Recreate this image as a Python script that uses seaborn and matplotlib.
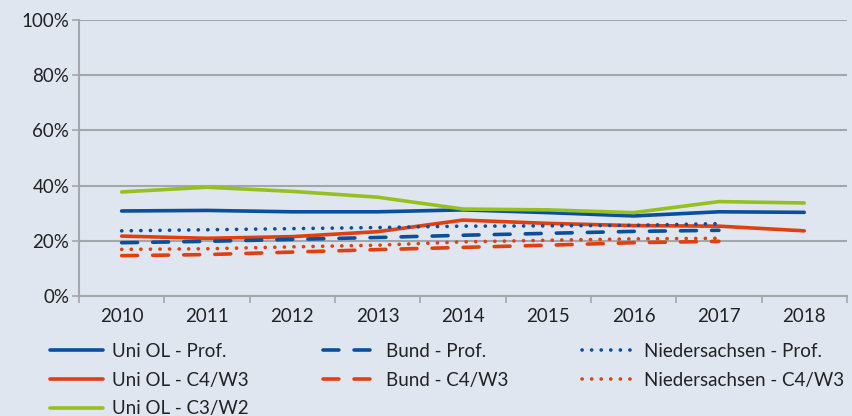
import matplotlib
matplotlib.use("Agg")
import matplotlib.pyplot as plt
import numpy as np
import seaborn as sns

# data (percent)
years = [2010, 2011, 2012, 2013, 2014, 2015, 2016, 2017, 2018]
uni_prof = [30.8, 31.0, 30.5, 30.5, 31.2, 30.2, 29.0, 30.5, 30.3]
uni_c4 = [21.7, 20.9, 21.5, 23.3, 27.5, 26.3, 25.5, 25.3, 23.6]
uni_c3 = [37.7, 39.4, 37.9, 35.8, 31.5, 31.2, 30.2, 34.2, 33.7]
bund_prof = [19.3, 19.8, 20.5, 21.2, 22.0, 22.7, 23.4, 23.8]
bund_c4 = [14.6, 15.0, 15.9, 16.8, 17.6, 18.4, 19.3, 19.8]
nds_prof = [23.6, 24.0, 24.4, 24.8, 25.3, 25.4, 25.6, 26.2]
nds_c4 = [16.9, 17.1, 17.8, 18.4, 19.6, 20.2, 20.7, 20.9]

BG = "#dfe6f0"
BLUE = "#0a4f9c"
RED = "#e0400f"
GREEN = "#94c11f"
GRID = "#a3a6aa"
TXT = "#222222"

sns.set_theme(style="white")
plt.rcParams["font.family"] = ["Lato", "DejaVu Sans"]

fig = plt.figure(figsize=(8.52, 4.16), dpi=100, facecolor=BG)
ax = fig.add_axes([0.0927, 0.2885, 0.9013, 0.6635])
ax.set_facecolor(BG)

series = [
    ("Uni OL - Prof.", uni_prof, BLUE, "solid"),
    ("Uni OL - C4/W3", uni_c4, RED, "solid"),
    ("Uni OL - C3/W2", uni_c3, GREEN, "solid"),
    ("Bund - Prof.", bund_prof, BLUE, "dash"),
    ("Bund - C4/W3", bund_c4, RED, "dash"),
    ("Niedersachsen - Prof.", nds_prof, BLUE, "dot"),
    ("Niedersachsen - C4/W3", nds_c4, RED, "dot"),
]

for label, vals, col, style in series:
    sns.lineplot(x=years[:len(vals)], y=vals, ax=ax, color=col, label=label,
                 linewidth=2.6, zorder=3)
    line = ax.get_lines()[-1]
    if style == "dash":
        line.set_dashes((4.4, 4.2))
        line.set_dash_capstyle("round")
    elif style == "dot":
        line.set_dashes((0.05, 2.6))
        line.set_dash_capstyle("round")
    else:
        line.set_solid_capstyle("round")

ax.set_xlim(2009.5, 2018.5)
ax.set_ylim(0, 100)
ax.set_yticks(np.arange(0, 101, 20))
ax.set_yticklabels([f"{v}%" for v in range(0, 101, 20)])
ax.set_xticks(years)
ax.set_xticklabels([str(y) for y in years])
ax.set_xticks(np.arange(2009.5, 2018.6, 1), minor=True)
ax.tick_params(axis="x", which="major", length=0, pad=9, labelsize=13.5, colors=TXT)
ax.tick_params(axis="x", which="minor", length=5, width=1.2, color=GRID, bottom=True)
ax.tick_params(axis="y", length=5, width=1.2, color=GRID, left=True, labelsize=13.5,
               colors=TXT, pad=2)
ax.yaxis.grid(True, color=GRID, linewidth=1.5, zorder=0)
ax.set_axisbelow(True)
for s in ["top", "right"]:
    ax.spines[s].set_visible(False)
for s in ["left", "bottom"]:
    ax.spines[s].set_color(GRID)
    ax.spines[s].set_linewidth(1.5)
ax.set_xlabel("")
ax.set_ylabel("")

leg = ax.legend(ncol=3, loc="upper left", bbox_to_anchor=(-0.048, -0.143), frameon=False,
                fontsize=13.5, handlelength=2.85, handletextpad=0.5, columnspacing=3.93,
                labelspacing=0.62, borderaxespad=0)
for t in leg.get_texts():
    t.set_color(TXT)

# title sits mostly above the visible area, as in the source image
fig.text(0.535, 1.007, "Frauenanteil an Professuren (in %, 2010-2018)", ha="center",
         va="baseline", fontsize=15, color=TXT)

fig.savefig("out.png", dpi=100, facecolor=BG)
